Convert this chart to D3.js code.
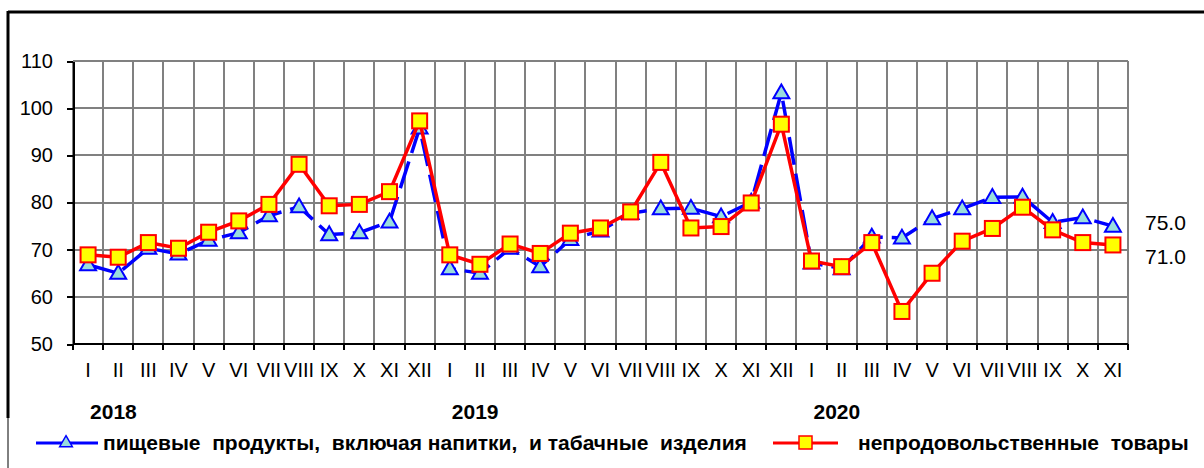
<!DOCTYPE html>
<meta charset="utf-8">
<style>
  body { margin: 0; background: #fff; }
  svg text { font-family: Arial, "Liberation Sans", sans-serif; fill: #000; }
  .grid line { stroke: #808080; stroke-width: 2; shape-rendering: crispEdges; }
  .axis path, .axis line { stroke: #000; stroke-width: 2; shape-rendering: crispEdges; }
  .axis text { font-size: 20px; }
  .legend text { font-size: 21px; font-weight: bold; white-space: pre; }
</style>
<body>
<script src="https://d3js.org/d3.v7.min.js"></script>
<script>
  // months for 2018, 2019 and Jan-Nov 2020
  var roman = ["I","II","III","IV","V","VI","VII","VIII","IX","X","XI","XII"];
  var months = roman.concat(roman, roman.slice(0, 11));
  var years = ["2018", "2019", "2020"];

  // food products incl. beverages and tobacco
  var food = [66.8, 65.0, 70.3, 69.1, 72.0, 73.6, 77.2, 79.1, 73.2, 73.6, 75.9, 95.8,
              66.0, 65.0, 70.3, 66.4, 72.2, 74.0, 77.7, 78.7, 78.8, 77.0, 80.1, 103.3,
              67.2, 66.0, 72.7, 72.5, 76.6, 78.7, 81.1, 81.2, 75.8, 76.8, 75.0];
  // non-food goods
  var nonfood = [68.9, 68.4, 71.5, 70.3, 73.7, 76.1, 79.6, 88.1, 79.3, 79.6, 82.3, 97.3,
                 68.9, 66.9, 71.2, 69.2, 73.5, 74.6, 78.0, 88.5, 74.6, 74.9, 79.9, 96.6,
                 67.6, 66.4, 71.5, 56.9, 65.0, 71.8, 74.5, 79.0, 74.2, 71.5, 71.0];
  var yTicks = [50, 60, 70, 80, 90, 100, 110];

  var W = 1204, H = 468;
  var mL = 73, mR = 1128, mT = 61, mB = 344;

  var svg = d3.select("body").append("svg")
    .attr("width", W).attr("height", H);

  // outer frame (only left and top edges visible)
  svg.append("line").attr("x1", 8).attr("x2", W).attr("y1", 12).attr("y2", 12)
    .attr("stroke", "#000").attr("stroke-width", 3);
  svg.append("line").attr("x1", 8).attr("x2", 8).attr("y1", 11).attr("y2", 418)
    .attr("stroke", "#000").attr("stroke-width", 3);
  svg.append("line").attr("x1", 8).attr("x2", 8).attr("y1", 418).attr("y2", H)
    .attr("stroke", "#000").attr("stroke-width", 1);

  var idx = d3.range(months.length);
  var x = d3.scaleBand().domain(idx).range([mL, mR]);
  var y = d3.scaleLinear().domain([50, 110]).range([mB, mT]);
  var cx = function (i) { return x(i) + x.bandwidth() / 2; };
  var edge = function (i) { return mL + i * x.bandwidth(); };

  // grid
  var grid = svg.append("g").attr("class", "grid");
  grid.selectAll(".v").data(idx.concat([months.length])).enter().append("line")
    .attr("x1", edge).attr("x2", edge)
    .attr("y1", mT).attr("y2", mB);
  grid.selectAll(".h").data(yTicks).enter().append("line")
    .attr("x1", mL).attr("x2", mR)
    .attr("y1", function (d) { return y(d); })
    .attr("y2", function (d) { return y(d); });

  // y axis
  svg.append("g").attr("class", "axis")
    .attr("transform", "translate(" + mL + ",0)")
    .call(d3.axisLeft(y).tickValues(yTicks).tickSize(6).tickPadding(14).tickSizeOuter(0))
    .selectAll("text").attr("font-size", 20);

  // x axis: ticks at category boundaries
  var xa = svg.append("g").attr("class", "axis");
  xa.append("line").attr("x1", mL).attr("x2", mR).attr("y1", mB).attr("y2", mB);
  xa.selectAll(".tk").data(idx.concat([months.length])).enter().append("line")
    .attr("x1", edge).attr("x2", edge)
    .attr("y1", mB).attr("y2", mB + 6);
  xa.selectAll(".lb").data(idx).enter().append("text")
    .attr("x", cx).attr("y", 377)
    .attr("text-anchor", "middle").attr("font-size", 19)
    .text(function (i) { return months[i]; });

  // year labels
  svg.selectAll(".yr").data(years).enter().append("text")
    .attr("x", function (d, k) { return cx(k * 12) + 2; })
    .attr("y", 419)
    .attr("font-size", 21).attr("font-weight", "bold")
    .text(function (d) { return d; });

  var line = d3.line().x(function (d, i) { return cx(i); }).y(function (d) { return y(d); });

  // food series: dashed blue with triangles
  svg.append("path").datum(food).attr("d", line)
    .attr("fill", "none").attr("stroke", "#0000ff").attr("stroke-width", 3.5)
    .attr("stroke-dasharray", "28,9");
  var tri = d3.symbol().type(d3.symbolTriangle).size(110);
  svg.selectAll(".tri").data(food).enter().append("path")
    .attr("d", tri)
    .attr("transform", function (d, i) { return "translate(" + cx(i) + "," + (y(d) + 1) + ")"; })
    .attr("fill", "#99dddd").attr("stroke", "#0000ff").attr("stroke-width", 2);

  // non-food series: solid red with yellow squares
  svg.append("path").datum(nonfood).attr("d", line)
    .attr("fill", "none").attr("stroke", "#ff0000").attr("stroke-width", 3.5);
  svg.selectAll(".sq").data(nonfood).enter().append("rect")
    .attr("x", function (d, i) { return cx(i) - 7.5; })
    .attr("y", function (d) { return y(d) - 7.5; })
    .attr("width", 15).attr("height", 15)
    .attr("fill", "#ffff00").attr("stroke", "#ff0000").attr("stroke-width", 2);

  // end value labels
  svg.append("text").attr("x", 1145).attr("y", 230).attr("font-size", 21)
    .text(d3.format(".1f")(food[food.length - 1]));
  svg.append("text").attr("x", 1145).attr("y", 264).attr("font-size", 21)
    .text(d3.format(".1f")(nonfood[nonfood.length - 1]));

  // legend
  var lg = svg.append("g").attr("class", "legend");
  lg.append("line").attr("x1", 36).attr("x2", 98).attr("y1", 443).attr("y2", 443)
    .attr("stroke", "#0000ff").attr("stroke-width", 3);
  lg.append("path").attr("d", d3.symbol().type(d3.symbolTriangle).size(70))
    .attr("transform", "translate(66,443)")
    .attr("fill", "#99dddd").attr("stroke", "#0000ff").attr("stroke-width", 1.5);
  lg.append("text").attr("x", 103).attr("y", 450)
    .text("пищевые  продукты,  включая напитки,  и табачные  изделия");
  lg.append("line").attr("x1", 773).attr("x2", 838).attr("y1", 443).attr("y2", 443)
    .attr("stroke", "#ff0000").attr("stroke-width", 3);
  lg.append("rect").attr("x", 799).attr("y", 436).attr("width", 13).attr("height", 13)
    .attr("fill", "#ffff00").attr("stroke", "#ff0000").attr("stroke-width", 1.5);
  lg.append("text").attr("x", 858).attr("y", 450)
    .text("непродовольственные  товары");
</script>
</body>
